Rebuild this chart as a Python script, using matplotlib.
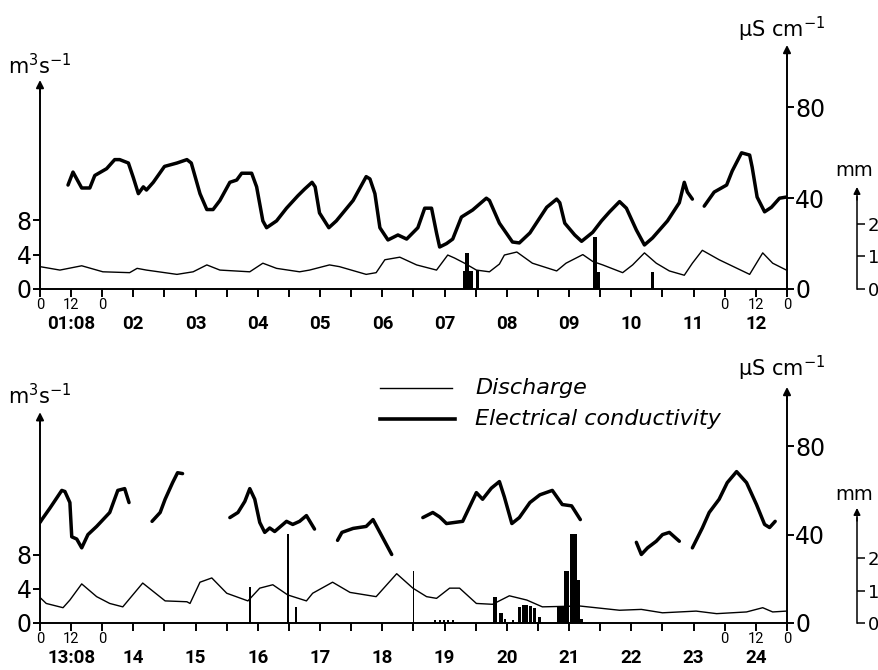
import numpy as np
import matplotlib
matplotlib.use("Agg")
import matplotlib.pyplot as plt
from matplotlib.lines import Line2D

plt.rcParams['font.family'] = ['DejaVu Sans']
plt.rcParams['mathtext.default'] = 'regular'

NAN = float('nan')

# ---------------- data ----------------
top_day_labels = ['01:08', '02', '03', '04', '05', '06', '07', '08', '09', '10', '11', '12']
bot_day_labels = ['13:08', '14', '15', '16', '17', '18', '19', '20', '21', '22', '23', '24']
hour_labels = ['0', '12', '0']

# top panel: electrical conductivity (day offset, uS/cm); NaN = gap in record
top_ec_t = [0.45, 0.53, 0.67, 0.80, 0.88, 1.07, 1.20, 1.28, 1.42, 1.50, 1.58, 1.66, 1.71, 1.82,
            2.00, 2.20, 2.36, 2.43, 2.57, 2.68, 2.78, 2.89, 3.05, 3.16, 3.24, 3.40, 3.48, 3.58,
            3.64, 3.80, 3.96, 4.14, 4.25, 4.37, 4.42, 4.49, 4.64, 4.76, 5.03, 5.24, 5.30, 5.38,
            5.46, 5.59, 5.75, 5.89, 6.07, 6.18, 6.29, 6.37, 6.42, 6.53, 6.63, 6.77, 6.95, 7.17,
            7.22, 7.38, 7.59, 7.70, 7.87, 8.14, 8.30, 8.35, 8.43, 8.59, 8.70, 8.88, 9.02, 9.15,
            9.31, 9.42, 9.58, 9.71, 9.84, 10.08, 10.27, 10.35, 10.40, 10.48, NAN,
            10.67, 10.83, 11.03, 11.12, 11.27, 11.40, 11.44, 11.52, 11.64, 11.75, 11.88, 11.99]
top_ec_v = [45.8, 51.5, 44.5, 44.5, 50.0, 53.0, 57.0, 57.0, 55.5, 49.0, 42.0, 45.0, 43.6, 47.0,
            54.0, 55.5, 57.0, 55.5, 42.0, 35.0, 35.0, 39.0, 47.0, 48.0, 51.0, 51.0, 45.0, 30.0,
            27.0, 30.0, 35.6, 41.0, 44.0, 47.0, 45.0, 33.5, 27.0, 30.0, 39.0, 49.5, 48.5, 42.0,
            27.0, 21.6, 23.8, 22.0, 27.0, 35.6, 35.6, 24.7, 18.5, 20.0, 22.0, 31.7, 34.8, 40.0,
            39.0, 29.0, 20.7, 20.3, 24.7, 36.0, 39.6, 38.0, 29.0, 23.8, 21.0, 25.0, 30.0, 34.0,
            38.5, 35.6, 26.0, 19.4, 22.5, 30.0, 38.0, 47.0, 42.7, 39.6, NAN,
            36.5, 42.7, 45.8, 52.0, 60.0, 59.0, 53.7, 40.5, 34.0, 36.0, 40.0, 40.5]

# top panel: discharge (day offset, m3/s)
top_q_t = [0.00, 0.32, 0.67, 1.01, 1.44, 1.56, 1.71, 2.20, 2.46, 2.68, 2.89, 3.37, 3.58, 3.80,
           4.17, 4.33, 4.65, 4.81, 5.24, 5.40, 5.54, 5.78, 6.05, 6.37, 6.55, 6.66, 6.82, 7.01,
           7.22, 7.38, 7.46, 7.66, 7.91, 8.30, 8.45, 8.72, 8.88, 9.04, 9.36, 9.52, 9.71, 9.90,
           10.11, 10.35, 10.48, 10.64, 10.91, 11.40, 11.61, 11.77, 11.99]
top_q_v = [2.6, 2.2, 2.7, 2.0, 1.9, 2.4, 2.2, 1.7, 2.0, 2.8, 2.2, 2.0, 3.0, 2.4,
           2.0, 2.2, 2.8, 2.6, 1.7, 1.9, 3.4, 3.7, 2.8, 2.2, 3.95, 3.6, 3.0, 2.2,
           2.0, 2.9, 3.95, 4.3, 3.0, 2.1, 3.0, 4.0, 3.2, 2.8, 1.9, 2.8, 4.2, 3.0,
           2.1, 1.6, 3.0, 4.5, 3.4, 1.7, 4.2, 3.0, 2.2]

# top panel: precipitation (day offset, bar width in days, mm)
top_rain_t = [6.87, 6.855, 7.025, 8.94, 8.915, 9.84]
top_rain_w = [0.16, 0.07, 0.05, 0.12, 0.05, 0.06]
top_rain_mm = [0.55, 1.10, 0.58, 0.52, 1.60, 0.52]

# bottom panel: electrical conductivity
bot_ec_t = [0.00, 0.03, 0.16, 0.35, 0.40, 0.48, 0.51, 0.59, 0.67, 0.77, 0.91, 1.12, 1.25, 1.36, 1.43, NAN,
            1.80, 1.93, 2.01, 2.13, 2.21, 2.29, NAN,
            3.05, 3.18, 3.29, 3.37, 3.45, 3.53, 3.61, 3.69, 3.77, 3.96, 4.06, 4.17, 4.28, 4.41, NAN,
            4.78, 4.85, 5.03, 5.24, 5.35, 5.46, 5.65, NAN,
            6.15, 6.31, 6.42, 6.53, 6.79, 7.01, 7.11, 7.25, 7.38, 7.46, 7.58, 7.70, 7.87, 8.03,
            8.23, 8.39, 8.54, 8.68, NAN,
            9.58, 9.66, 9.76, 9.90, 10.00, 10.11, 10.27, NAN,
            10.48, 10.64, 10.75, 10.91, 11.04, 11.19, 11.35, 11.51, 11.64, 11.72, 11.81]
bot_ec_v = [45.5, 46.8, 52.0, 60.0, 59.5, 54.5, 39.0, 38.0, 34.0, 40.0, 43.7, 50.0, 60.0, 60.8, 54.5, NAN,
            46.0, 50.0, 56.0, 63.5, 68.0, 67.6, NAN,
            47.7, 50.0, 55.0, 60.8, 56.0, 45.5, 41.0, 43.0, 41.4, 46.0, 44.6, 46.0, 48.6, 42.5, NAN,
            37.4, 41.0, 42.8, 43.7, 46.8, 41.0, 31.0, NAN,
            47.7, 50.0, 48.0, 45.0, 46.0, 59.0, 56.0, 61.0, 64.0, 57.0, 45.0, 47.7, 54.5, 58.0,
            60.0, 53.6, 53.0, 46.8, NAN,
            36.5, 31.0, 34.0, 37.0, 40.0, 41.0, 37.0, NAN,
            34.0, 43.0, 50.0, 56.0, 63.5, 68.5, 63.5, 53.6, 44.6, 43.2, 46.0]

# bottom panel: discharge
bot_q_t = [0.00, 0.10, 0.37, 0.48, 0.67, 0.91, 1.12, 1.33, 1.65, 2.01, 2.36, 2.41, 2.57, 2.76,
           3.00, 3.34, 3.53, 3.74, 3.98, 4.28, 4.38, 4.70, 4.98, 5.40, 5.73, 5.99, 6.21, 6.37,
           6.58, 6.74, 7.01, 7.27, 7.54, 7.82, 8.07, 8.67, 9.31, 9.66, 10.00, 10.54, 10.87,
           11.35, 11.61, 11.77, 11.99]
bot_q_v = [3.0, 2.3, 1.8, 2.7, 4.6, 3.1, 2.3, 1.9, 4.7, 2.6, 2.5, 2.3, 4.8, 5.3,
           3.5, 2.6, 4.1, 4.5, 3.3, 2.6, 3.5, 4.8, 3.6, 3.1, 5.8, 4.1, 3.1, 2.9,
           4.1, 4.1, 2.3, 2.2, 3.2, 2.7, 1.9, 2.0, 1.5, 1.6, 1.2, 1.4, 1.1,
           1.3, 1.8, 1.3, 1.4]

# bottom panel: precipitation
bot_rain_t = [3.37, 3.98, 4.11, 6.00, 6.35, 6.42, 6.49, 6.56, 6.63, 7.31, 7.40, 7.47, 7.60,
              7.70, 7.76, 7.82, 7.88, 7.94, 8.02, 8.36, 8.46, 8.565, 8.645, 8.70]
bot_rain_w = [0.03, 0.035, 0.035, 0.03, 0.035, 0.035, 0.035, 0.035, 0.035, 0.05, 0.06, 0.03, 0.04,
              0.05, 0.05, 0.05, 0.05, 0.05, 0.05, 0.11, 0.09, 0.11, 0.05, 0.05]
bot_rain_mm = [1.10, 2.75, 0.50, 1.60, 0.10, 0.10, 0.10, 0.10, 0.10, 0.80, 0.30, 0.12, 0.10,
               0.50, 0.55, 0.55, 0.52, 0.45, 0.18, 0.50, 1.60, 2.75, 1.33, 0.12]

# ---------------- figure ----------------
W, H = 879, 670
fig = plt.figure(figsize=(W / 100, H / 100), dpi=100)
fig.patch.set_facecolor('white')

LW_AX = 1.4
PANEL_H = 250.0
LABEL_FONT = ['Roboto', 'DejaVu Sans']


def panel(base_px, ec_t, ec_v, q_t, q_v, r_t, r_w, r_mm, day_labels,
          q_scale, ec_scale, mm_scale, q_tip, ec_tip, mm_tip):
    left, right = 40, 787
    ax = fig.add_axes([left / W, (H - base_px) / H, (right - left) / W, PANEL_H / H])
    ax.set_xlim(0, 12)
    ax.set_ylim(0, PANEL_H / q_scale)
    ax.patch.set_alpha(0)
    for s in ['top', 'right']:
        ax.spines[s].set_visible(False)
    ax.spines['left'].set_linewidth(LW_AX)
    ax.spines['bottom'].set_linewidth(LW_AX)
    ax.spines['left'].set_bounds(0, q_tip - 1.0)
    ax.set_yticks([0, 4, 8])
    ax.set_yticklabels(['0', '4', '8'], fontsize=17)
    ax.tick_params(axis='y', direction='out', length=5, width=LW_AX, pad=1)
    ax.set_xticks(np.arange(0, 12.01, 0.5))
    ax.set_xticklabels([])
    ax.tick_params(axis='x', direction='out', length=6, width=LW_AX)
    ax.annotate('', xy=(0, q_tip), xytext=(0, q_tip - 1.5),
                arrowprops=dict(arrowstyle='-|>', color='black', lw=LW_AX,
                                mutation_scale=11, shrinkA=0, shrinkB=0),
                annotation_clip=False)
    ax.plot(q_t, q_v, color='black', lw=1.0, solid_joinstyle='round')

    ax2 = ax.twinx()
    ax2.set_ylim(0, PANEL_H / ec_scale)
    for s in ['top', 'left', 'bottom']:
        ax2.spines[s].set_visible(False)
    ax2.spines['right'].set_linewidth(LW_AX)
    ax2.spines['right'].set_bounds(0, ec_tip - 4)
    ax2.set_yticks([0, 40, 80])
    ax2.set_yticklabels(['0', '40', '80'], fontsize=17)
    ax2.tick_params(axis='y', direction='out', length=5, width=LW_AX, pad=1)
    ax2.annotate('', xy=(12, ec_tip), xytext=(12, ec_tip - 6),
                 arrowprops=dict(arrowstyle='-|>', color='black', lw=LW_AX,
                                 mutation_scale=11, shrinkA=0, shrinkB=0),
                 annotation_clip=False)
    ax2.plot(ec_t, ec_v, color='black', lw=2.5, solid_joinstyle='round',
             solid_capstyle='round')

    ax3 = ax.twinx()
    ax3.set_ylim(0, PANEL_H / mm_scale)
    for s in ['top', 'left', 'bottom']:
        ax3.spines[s].set_visible(False)
    mm_pos = (857 - left) / (right - left)
    ax3.spines['right'].set_position(('axes', mm_pos))
    ax3.spines['right'].set_linewidth(1.1)
    ax3.spines['right'].set_bounds(0, mm_tip - 0.3)
    ax3.set_yticks([0, 1, 2])
    ax3.set_yticklabels(['0', '1', '2'], fontsize=13)
    ax3.tick_params(axis='y', direction='out', length=6, width=1.1, pad=2)
    ax3.annotate('', xy=(mm_pos, mm_tip), xytext=(mm_pos, mm_tip - 0.4),
                 xycoords=('axes fraction', 'data'), textcoords=('axes fraction', 'data'),
                 arrowprops=dict(arrowstyle='-|>', color='black', lw=1.1,
                                 mutation_scale=10, shrinkA=0, shrinkB=0),
                 annotation_clip=False)
    ax3.bar(r_t, r_mm, width=r_w, color='black', linewidth=0, align='center')

    tr = ax.get_xaxis_transform()
    for i, lab in enumerate(day_labels):
        ax.text(i + 0.5, -35 / PANEL_H, lab, transform=tr, ha='center', va='center',
                fontsize=13.5, fontweight='bold', family=LABEL_FONT)
    for xs in ([0, 0.5, 1.0], [11, 11.5, 12]):
        for x, lab in zip(xs, hour_labels):
            ax.text(x, -16 / PANEL_H, lab, transform=tr, ha='center', va='center',
                    fontsize=10.5, family=LABEL_FONT)
    return ax


# top panel (baseline at y=289 px)
panel(289, top_ec_t, top_ec_v, top_q_t, top_q_v, top_rain_t, top_rain_w, top_rain_mm,
      top_day_labels, q_scale=8.6, ec_scale=2.27, mm_scale=32.5,
      q_tip=24.3, ec_tip=107.5, mm_tip=3.14)
# bottom panel (baseline at y=623 px)
panel(623, bot_ec_t, bot_ec_v, bot_q_t, bot_q_v, bot_rain_t, bot_rain_w, bot_rain_mm,
      bot_day_labels, q_scale=8.5, ec_scale=2.21, mm_scale=32.5,
      q_tip=24.8, ec_tip=106.8, mm_tip=3.54)


def ftext(x, y, s, **kw):
    fig.text(x / W, 1 - y / H, s, **kw)


for yb in (74, 404):
    ftext(8, yb, r'm$^3$s$^{-1}$', fontsize=15, va='baseline', ha='left')
for yb in (37, 376):
    ftext(738, yb, r'µS cm$^{-1}$', fontsize=15, va='baseline', ha='left')
for yb in (176, 500):
    ftext(835, yb, 'mm', fontsize=14, va='baseline', ha='left')

# legend
fig.add_artist(Line2D([380 / W, 452 / W], [1 - 388 / H] * 2, color='black', lw=1.0,
                      transform=fig.transFigure))
fig.add_artist(Line2D([380 / W, 455 / W], [1 - 419 / H] * 2, color='black', lw=2.6,
                      transform=fig.transFigure))
ftext(475, 388, 'Discharge', fontsize=16, style='italic', va='center', ha='left')
ftext(475, 419, 'Electrical conductivity', fontsize=16, style='italic', va='center', ha='left')

fig.savefig('out.png', dpi=100, facecolor='white')
